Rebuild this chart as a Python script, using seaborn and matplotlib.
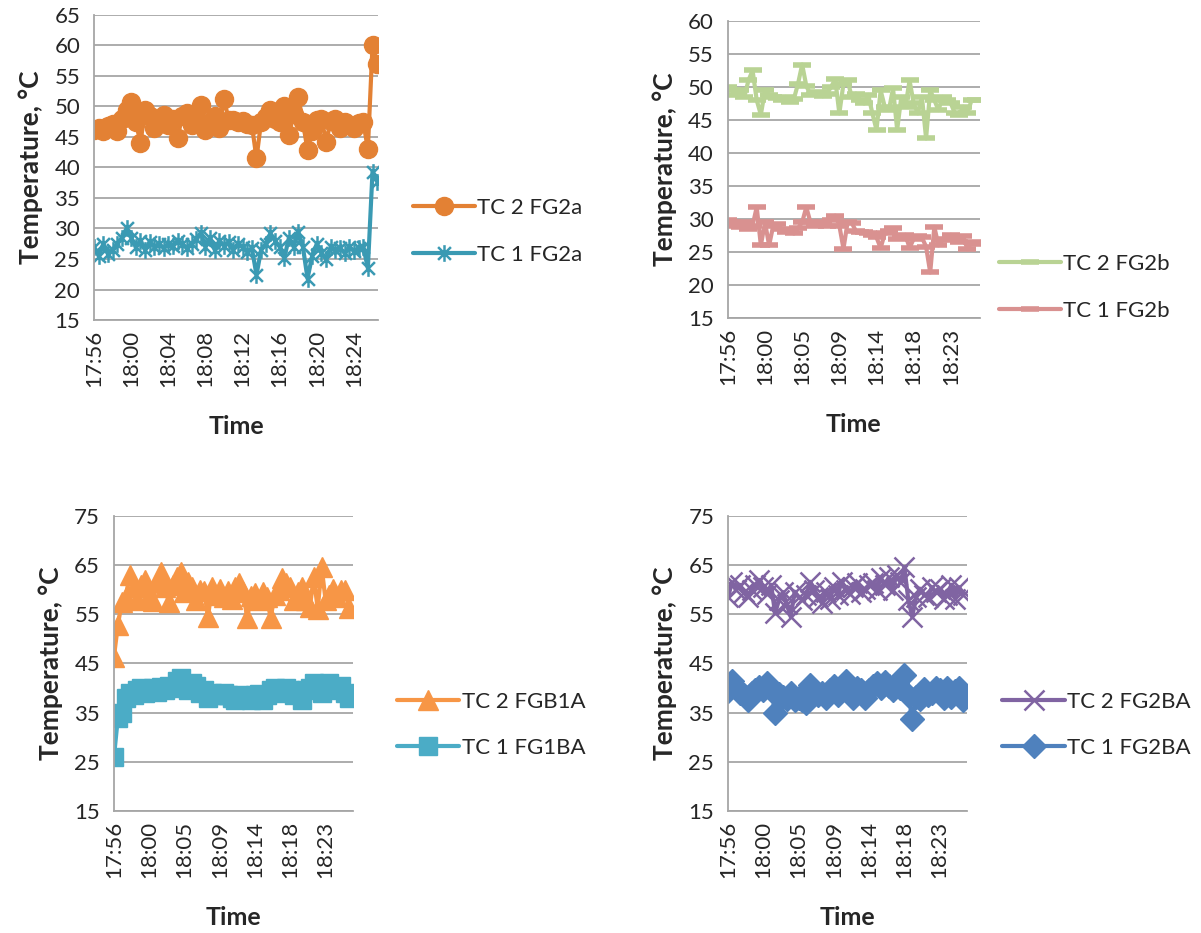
import numpy as np
import seaborn as sns
import matplotlib
matplotlib.use("Agg")
from matplotlib import pyplot as plt
from matplotlib.path import Path

# ---------------- data (~30 s samples) ----------------
tc2_fg2a = [46.2, 46.5, 46.0, 46.8, 47.2, 46.0, 48.0, 49.5, 50.8, 47.5,
            44.0, 49.5, 48.5, 46.5, 47.8, 48.6, 47.0, 48.0, 44.8, 48.5,
            49.0, 47.0, 48.2, 50.2, 46.2, 47.5, 48.5, 46.5, 51.3, 47.8,
            47.8, 47.5, 47.6, 47.2, 47.0, 41.5, 47.5, 48.2, 49.5, 48.0,
            47.5, 50.0, 45.3, 48.8, 51.6, 47.5, 42.8, 46.0, 47.8, 48.0,
            44.2, 47.6, 48.0, 46.5, 47.5, 47.0, 46.5, 47.3, 47.5, 43.0,
            60.0, 57.0]
tc1_fg2a = [27.0, 25.5, 27.5, 25.8, 26.5, 27.5, 28.5, 30.0, 28.5, 27.0,
            28.0, 26.5, 27.8, 27.0, 27.5, 26.8, 27.5, 27.2, 28.0, 27.5,
            26.8, 27.5, 28.2, 29.3, 27.0, 28.5, 26.5, 28.0, 27.2, 27.8,
            26.5, 27.5, 27.0, 26.2, 26.8, 22.4, 26.5, 27.5, 29.2, 28.0,
            27.0, 25.2, 28.5, 27.0, 29.5, 27.0, 21.8, 25.5, 27.5, 26.0,
            25.0, 27.0, 26.5, 26.8, 26.0, 27.0, 26.3, 26.8, 27.0, 23.5,
            39.3, 37.7]
labels_a = ["17:56", "18:00", "18:04", "18:08", "18:12", "18:16", "18:20", "18:24"]

tc2_fg2b = [50.0, 49.5, 48.8, 49.5, 48.5, 51.0, 52.5, 48.0, 45.8, 49.5,
            48.8, 48.5, 48.3, 48.0, 48.5, 47.8, 48.2, 50.5, 53.4, 50.2,
            48.8, 49.0, 49.2, 48.6, 49.0, 50.0, 51.2, 46.0, 50.5, 51.0,
            48.5, 49.0, 48.0, 47.5, 48.8, 46.0, 43.5, 49.5, 47.0, 46.5,
            49.8, 43.5, 48.5, 47.0, 51.0, 47.5, 46.0, 48.5, 42.2, 49.5,
            48.0, 46.5, 48.5, 48.0, 47.5, 46.0, 45.8, 47.0, 46.0, 48.0,
            48.0]
tc1_fg2b = [29.8, 29.5, 29.0, 28.8, 29.5, 28.5, 29.0, 31.8, 26.0, 29.5,
            26.0, 29.0, 29.2, 28.5, 28.0, 28.2, 27.8, 28.6, 29.5, 31.8,
            29.5, 29.0, 29.3, 29.5, 29.0, 29.8, 30.5, 29.0, 25.5, 29.5,
            29.4, 28.2, 28.0, 28.0, 27.8, 27.5, 27.2, 25.6, 27.8, 28.2,
            28.6, 27.0, 27.2, 27.6, 25.6, 27.0, 27.4, 27.2, 25.8, 21.9,
            28.8, 26.0, 26.8, 27.0, 27.6, 27.2, 26.5, 27.4, 25.4, 26.5,
            26.2]

tc2_fgb1a = [46.4, 52.8, 57.5, 58.5, 63.0, 60.5, 58.0, 61.0, 62.0, 59.0,
             57.8, 61.5, 63.5, 60.5, 57.5, 61.0, 62.5, 63.5, 59.5, 61.5,
             60.5, 58.0, 60.0, 59.8, 54.5, 60.5, 59.0, 60.2, 58.5, 59.8,
             58.2, 60.5, 61.3, 59.5, 54.2, 58.8, 59.3, 58.0, 59.6, 58.5,
             54.2, 59.0, 60.0, 62.3, 61.3, 60.5, 57.9, 59.5, 60.5, 58.0,
             56.5, 62.6, 56.0, 64.6, 57.9, 59.0, 60.2, 58.5, 59.9, 60.0,
             56.2]
tc1_fg1ba = [26.0, 34.0, 35.0, 38.0, 39.0, 38.5, 39.5, 40.0, 39.0, 39.5,
             40.0, 39.2, 40.2, 39.5, 40.5, 40.0, 41.5, 42.0, 40.5, 39.5,
             41.0, 40.5, 39.0, 39.5, 38.0, 39.0, 38.5, 38.5, 39.0, 38.5,
             38.0, 37.5, 38.5, 38.0, 38.2, 37.5, 38.5, 38.8, 37.5, 38.5,
             39.5, 40.0, 39.0, 39.5, 40.0, 39.5, 38.5, 39.0, 37.5, 39.5,
             40.0, 41.0, 40.5, 39.0, 40.5, 41.0, 40.0, 39.5, 40.5, 39.0,
             38.0]

tc2_fg2ba = [58.5, 61.5, 60.0, 61.0, 59.5, 58.5, 60.0, 61.0, 62.0, 60.5,
             59.2, 61.0, 55.2, 57.9, 59.5, 57.0, 54.5, 59.6, 58.5, 57.9,
             59.0, 61.6, 60.0, 58.5, 57.2, 59.5, 58.2, 60.5, 59.0, 61.6,
             60.0, 59.2, 60.5, 61.3, 59.5, 60.2, 61.0, 61.3, 60.0, 62.3,
             61.0, 62.5, 60.0, 63.0, 61.5, 64.6, 58.0, 54.5, 58.5, 60.2,
             59.0, 58.5, 60.5, 59.5, 60.2, 58.2, 59.0, 61.0, 58.2, 60.5,
             58.9]
tc1_fg2ba = [39.3, 41.5, 40.0, 39.0, 38.5, 37.5, 39.0, 39.5, 40.3, 39.5,
             41.0, 39.5, 35.0, 38.8, 38.2, 37.8, 39.0, 37.6, 38.0, 37.5,
             36.9, 40.6, 39.5, 38.5, 39.0, 38.0, 39.5, 40.5, 38.5, 40.0,
             41.5, 39.0, 38.0, 40.0, 39.5, 38.0, 39.5, 40.5, 41.0, 40.0,
             41.3, 40.5, 39.5, 41.0, 40.0, 42.6, 38.5, 33.8, 38.2, 37.8,
             39.9, 38.5, 38.9, 40.0, 39.6, 38.0, 40.0, 38.2, 39.3, 40.0,
             37.6]
labels_b = ["17:56", "18:00", "18:05", "18:09", "18:14", "18:18", "18:23"]

# ---------------- style ----------------
sns.set_style("white")
plt.rcParams['font.family'] = ['Lato', 'DejaVu Sans']
FS = 16      # tick labels
LFS = 16     # legend
AFS = 18     # axis titles
GRID = "#A6A6A6"

# excel "star" marker: an X with a vertical bar through it
star = Path([(-1, -1), (1, 1), (-1, 1), (1, -1), (0, -1.3), (0, 1.3)],
            [Path.MOVETO, Path.LINETO, Path.MOVETO, Path.LINETO, Path.MOVETO, Path.LINETO])

fig = plt.figure(figsize=(12.01, 9.33), dpi=100)


def panel(rect, series, ylim, step, labels, tick_every, xmax, leg_anchor):
    ax = fig.add_axes(rect)
    for vals, name, color, mk, ms, mew in series:
        x = np.arange(len(vals))
        sns.lineplot(x=x, y=vals, ax=ax, color=color, linewidth=3, label=name,
                     marker=mk, markersize=ms, markeredgewidth=mew,
                     markeredgecolor=color, markerfacecolor=color)
    ax.set_xlim(0, xmax)
    ax.set_ylim(*ylim)
    ax.set_yticks(np.arange(ylim[0], ylim[1] + 0.1, step))
    ax.set_xticks(np.arange(len(labels)) * tick_every)
    ax.set_xticklabels(labels, rotation=90, fontsize=FS)
    ax.tick_params(axis="y", labelsize=FS, length=6, color=GRID, width=1.3, pad=4)
    ax.tick_params(axis="x", length=0, pad=7)
    ax.yaxis.grid(True, color=GRID, linewidth=1.3)
    ax.set_axisbelow(True)
    for s in ["top", "right"]:
        ax.spines[s].set_visible(False)
    for s in ["left", "bottom"]:
        ax.spines[s].set_color(GRID)
        ax.spines[s].set_linewidth(1.3)
    ax.set_xlabel("Time", fontsize=AFS, fontweight="bold", labelpad=20)
    ax.set_ylabel("Temperature, \u00b0C", fontsize=AFS + 1, fontweight="bold", labelpad=8)
    ax.legend(loc="center left", bbox_to_anchor=leg_anchor, bbox_transform=fig.transFigure,
              frameon=False, fontsize=LFS, handlelength=2.8, labelspacing=1.2,
              handletextpad=0.1)
    return ax


panel([0.0783, 0.657, 0.2365, 0.327],
      [(tc2_fg2a, "TC 2 FG2a", "#E38134", "o", 13, 1),
       (tc1_fg2a, "TC 1 FG2a", "#3A9AB3", star, 12, 1.8)],
      (15, 65), 5, labels_a, 8, 61.2, (0.327, 0.752))

panel([0.606, 0.6592, 0.2098, 0.3183],
      [(tc2_fg2b, "TC 2 FG2b", "#B9D394", "_", 13, 4),
       (tc1_fg2b, "TC 1 FG2b", "#D99190", "_", 13, 4)],
      (15, 60), 5, labels_b, 9, 61, (0.815, 0.692))

panel([0.0949, 0.1308, 0.199, 0.3162],
      [(tc2_fgb1a, "TC 2 FGB1A", "#F79646", "^", 15, 1),
       (tc1_fg1ba, "TC 1 FG1BA", "#4BACC6", "s", 13, 1)],
      (15, 75), 10, labels_b, 9, 61, (0.314, 0.223))

panel([0.6062, 0.1308, 0.199, 0.3162],
      [(tc2_fg2ba, "TC 2 FG2BA", "#8064A2", "x", 15, 1.8),
       (tc1_fg2ba, "TC 1 FG2BA", "#4F81BD", "D", 12, 1)],
      (15, 75), 10, labels_b, 9, 61, (0.818, 0.223))

fig.savefig("out.png", dpi=100)
